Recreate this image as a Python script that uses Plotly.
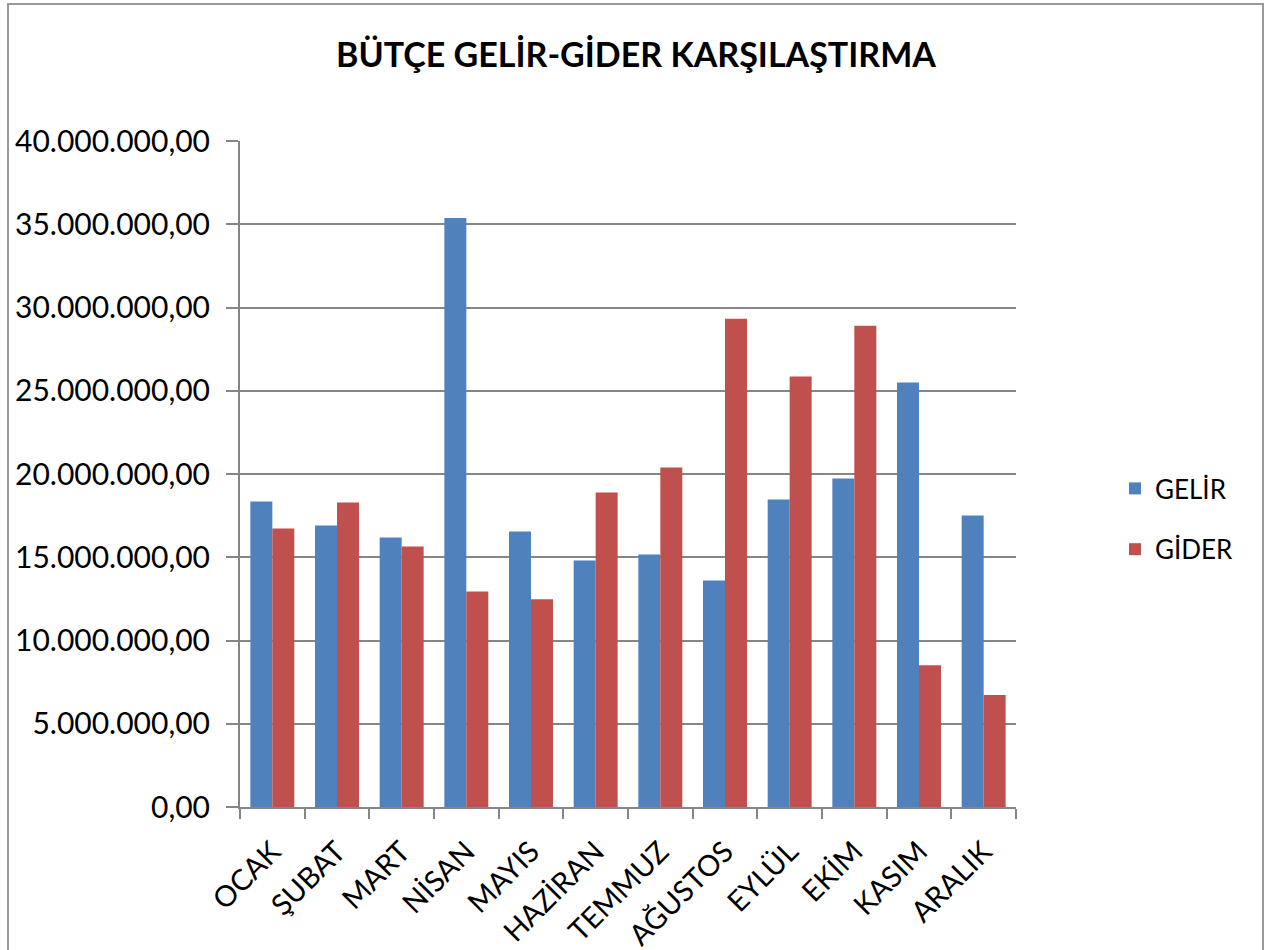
import plotly.graph_objects as go

months = ["OCAK", "ŞUBAT", "MART", "NİSAN", "MAYIS", "HAZİRAN", "TEMMUZ",
          "AĞUSTOS", "EYLÜL", "EKİM", "KASIM", "ARALIK"]
gelir = [18350000, 16910000, 16190000, 35380000, 16550000, 14810000,
         15170000, 13610000, 18470000, 19730000, 25490000, 17510000]
gider = [16730000, 18290000, 15650000, 12950000, 12470000, 18890000,
         20390000, 29330000, 25850000, 28910000, 8520000, 6720000]
y_tickvals = [0, 5000000, 10000000, 15000000, 20000000, 25000000, 30000000, 35000000, 40000000]
y_ticktext = ["0,00", "5.000.000,00", "10.000.000,00", "15.000.000,00", "20.000.000,00",
              "25.000.000,00", "30.000.000,00", "35.000.000,00", "40.000.000,00"]

FONT = "Lato, Carlito, Calibri, sans-serif"
GRID = "#868686"

fig = go.Figure()
fig.add_trace(go.Bar(name="GELİR", x=months, y=gelir, legendgroup="a",
                     marker=dict(color="#4F81BD", line=dict(width=0))))
fig.add_trace(go.Bar(name="GİDER", x=months, y=gider, legendgroup="b",
                     marker=dict(color="#C0504D", line=dict(width=0))))

W, H = 1272, 950
L, R, T, B = 240, 256, 141, 143
pw, ph = W - L - R, H - T - B

def px(x):
    return (x - L) / pw

def py(y):
    return (H - B - y) / ph

fig.update_layout(
    width=W, height=H,
    margin=dict(l=L, r=R, t=T, b=B, autoexpand=False),
    paper_bgcolor="white", plot_bgcolor="white",
    barmode="group", bargap=0.32, bargroupgap=0,
    font=dict(family=FONT, color="black", size=29),
    title=dict(text="<b>BÜTÇE GELİR-GİDER KARŞILAŞTIRMA</b>", x=0.5, xanchor="center",
               y=1 - 55 / H, yanchor="middle", font=dict(size=34, family=FONT)),
    legend=dict(x=px(1115), y=py(519), xanchor="left", yanchor="middle",
                font=dict(size=26, family=FONT), itemsizing="constant",
                tracegroupgap=24, bgcolor="rgba(0,0,0,0)"),
    showlegend=True,
    xaxis=dict(showline=True, linecolor=GRID, linewidth=2, ticks="outside", ticklen=10,
               tickcolor=GRID, tickwidth=2, tickson="boundaries", tickangle=-45,
               ticklabelstandoff=14,
               tickfont=dict(size=29, family=FONT), showgrid=False),
    yaxis=dict(range=[0, 40000000], tickvals=y_tickvals, ticktext=y_ticktext,
               showline=True, linecolor=GRID, linewidth=2, ticks="outside", ticklen=12,
               tickcolor=GRID, tickwidth=2, showgrid=True, gridcolor=GRID, gridwidth=2,
               ticklabelstandoff=10,
               tickfont=dict(size=30, family=FONT), zeroline=False),
)

frame_js = (
    "document.body.style.margin='0px';document.body.style.overflow='hidden';"
    "var f=document.createElement('div');"
    "f.style.cssText='position:absolute;left:7px;top:3px;width:1257px;height:1000px;"
    "border:2px solid #999;pointer-events:none;box-sizing:border-box;z-index:10;';"
    "document.body.appendChild(f);"
)

fig.write_html("out.html", config={"displayModeBar": False}, post_script=frame_js)
